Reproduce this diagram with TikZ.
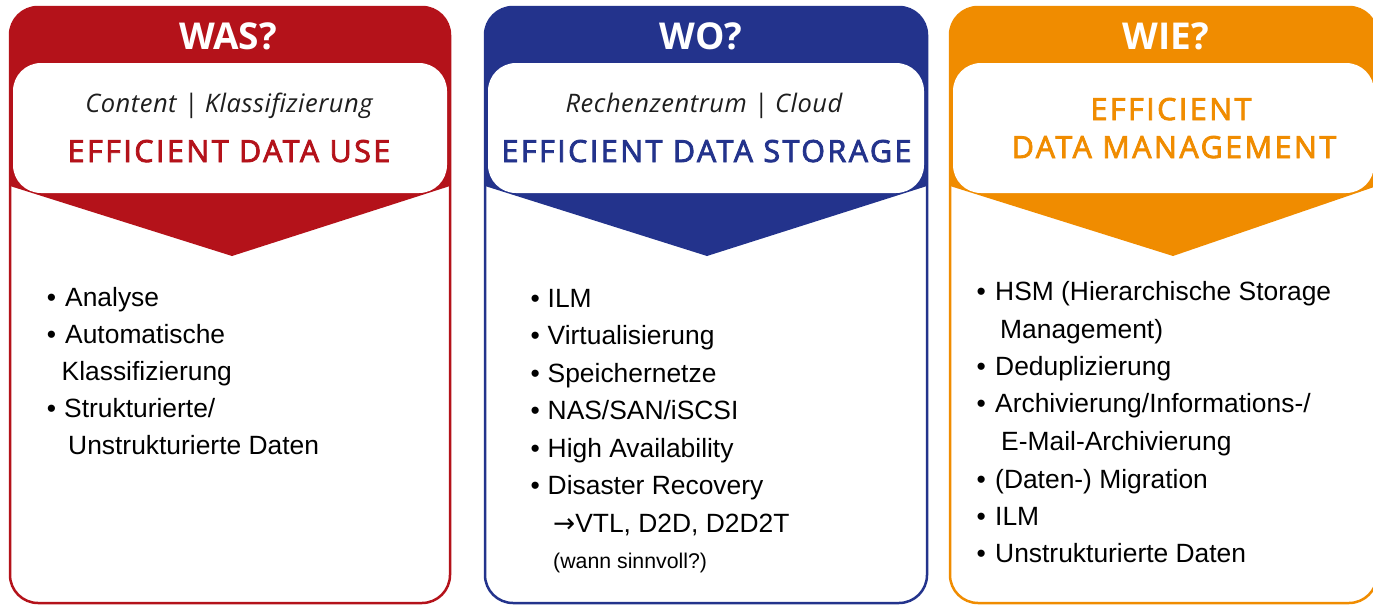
\documentclass[tikz,border=0pt]{standalone}
\usepackage{fontspec}
\setmainfont{Liberation Sans}
\newfontfamily\hdfont{Open Sans}
\newfontfamily\hdsemi[FakeBold=2.6,LetterSpace=8]{Open Sans}
\newfontfamily\hdital[LetterSpace=2]{Open Sans Italic}
\newfontfamily\arrfont{DejaVu Sans}
\definecolor{cred}{RGB}{180,18,26}
\definecolor{cblue}{RGB}{35,51,140}
\definecolor{corange}{RGB}{240,140,0}
\definecolor{cgray}{RGB}{30,30,30}
\newcommand\drawpanel[4]{%
  \begin{scope}
    \path[clip,rounded corners=28pt] (#1,7) rectangle (#2,603);
    \fill[#4] (#1,0) -- (#2,0) -- (#2,186) -- (#3,256) -- (#1,186) -- cycle;
  \end{scope}
  \fill[white,rounded corners=28pt] (#1+3,63) rectangle (#2-3,193);
  \draw[#4,line width=2.5pt,rounded corners=28pt] (#1,7) rectangle (#2,603);
}
\tikzset{
  title/.style={anchor=base,inner sep=0pt,text=white,font=\hdfont\bfseries\fontsize{37}{40}\selectfont},
  sub/.style={anchor=base,inner sep=0pt,text=cgray,font=\hdital\fontsize{25.5}{28}\selectfont},
  eff/.style={anchor=base,inner sep=0pt,font=\hdsemi\fontsize{30.5}{34}\selectfont},
  item/.style={anchor=base west,inner sep=0pt,text=black,font=\fontsize{26.4}{30}\selectfont},
  small/.style={anchor=base west,inner sep=0pt,text=black,font=\fontsize{21.3}{25}\selectfont},
}
\begin{document}
\begin{tikzpicture}[x=1pt,y=-1pt]
\useasboundingbox (0,0) rectangle (1373,605);
\fill[white] (0,0) rectangle (1373,605);
\drawpanel{10}{450}{232}{cred}
\drawpanel{485}{927}{707}{cblue}
\drawpanel{950}{1377}{1173}{corange}
% panel 1
\node[title] (t1) at (228,49) {WAS?};
\node[sub] (s1) at (229,112) {Content | Klassifizierung};
\node[eff,text=cred] (e1) at (229,162) {EFFICIENT DATA USE};
\node[item] (b1a) at (46.6,306) {•};
\node[item] (i1a) at (65,306) {Analyse};
\node[item] (b1b) at (46.6,343) {•};
\node[item] (i1b) at (65,343) {Automatische};
\node[item] (i1c) at (61.5,380) {Klassifizierung};
\node[item] (b1d) at (46.6,417) {•};
\node[item] (i1d) at (64,417) {Strukturierte/};
\node[item] (i1e) at (68,454) {Unstrukturierte Daten};
% panel 2
\node[title] (t2) at (701,49) {WO?};
\node[sub] (s2) at (704,112) {Rechenzentrum | Cloud};
\node[eff,text=cblue] (e2) at (706.5,162) {EFFICIENT DATA STORAGE};
\foreach \y/\t [count=\k] in {307/ILM,344.5/Virtualisierung,382/Speichernetze,419.5/NAS\slash SAN\slash iSCSI,457/High Availability,494.5/Disaster Recovery}{
  \node[item] (b2\k) at (530.5,\y) {•};
  \node[item] (i2\k) at (547.5,\y) {\t};
}
\node[item] (i2g) at (553,532) {{\arrfont →}VTL, D2D, D2D2T};
\node[small] (i2h) at (553,568) {(wann sinnvoll?)};
% panel 3
\node[title] (t3) at (1166,49) {WIE?};
\node[eff,text=corange] (e3a) at (1171,120) {EFFICIENT};
\node[eff,text=corange] (e3b) at (1174,158) {DATA MANAGEMENT};
\node[item] (b3a) at (976.5,300) {•};
\node[item] (i3a) at (995,300) {HSM (Hierarchische Storage};
\node[item] (i3b) at (1000,338) {Management)};
\node[item] (b3c) at (976.5,375) {•};
\node[item] (i3c) at (995,375) {Deduplizierung};
\node[item] (b3d) at (976.5,412) {•};
\node[item] (i3d) at (995,412) {Archivierung/Informations-/};
\node[item] (i3e) at (1001,450) {E-Mail-Archivierung};
\node[item] (b3f) at (976.5,488) {•};
\node[item] (i3f) at (995,488) {(Daten-) Migration};
\node[item] (b3g) at (976.5,525) {•};
\node[item] (i3g) at (995,525) {ILM};
\node[item] (b3h) at (976.5,562) {•};
\node[item] (i3h) at (995,562) {Unstrukturierte Daten};
\end{tikzpicture}
\end{document}
